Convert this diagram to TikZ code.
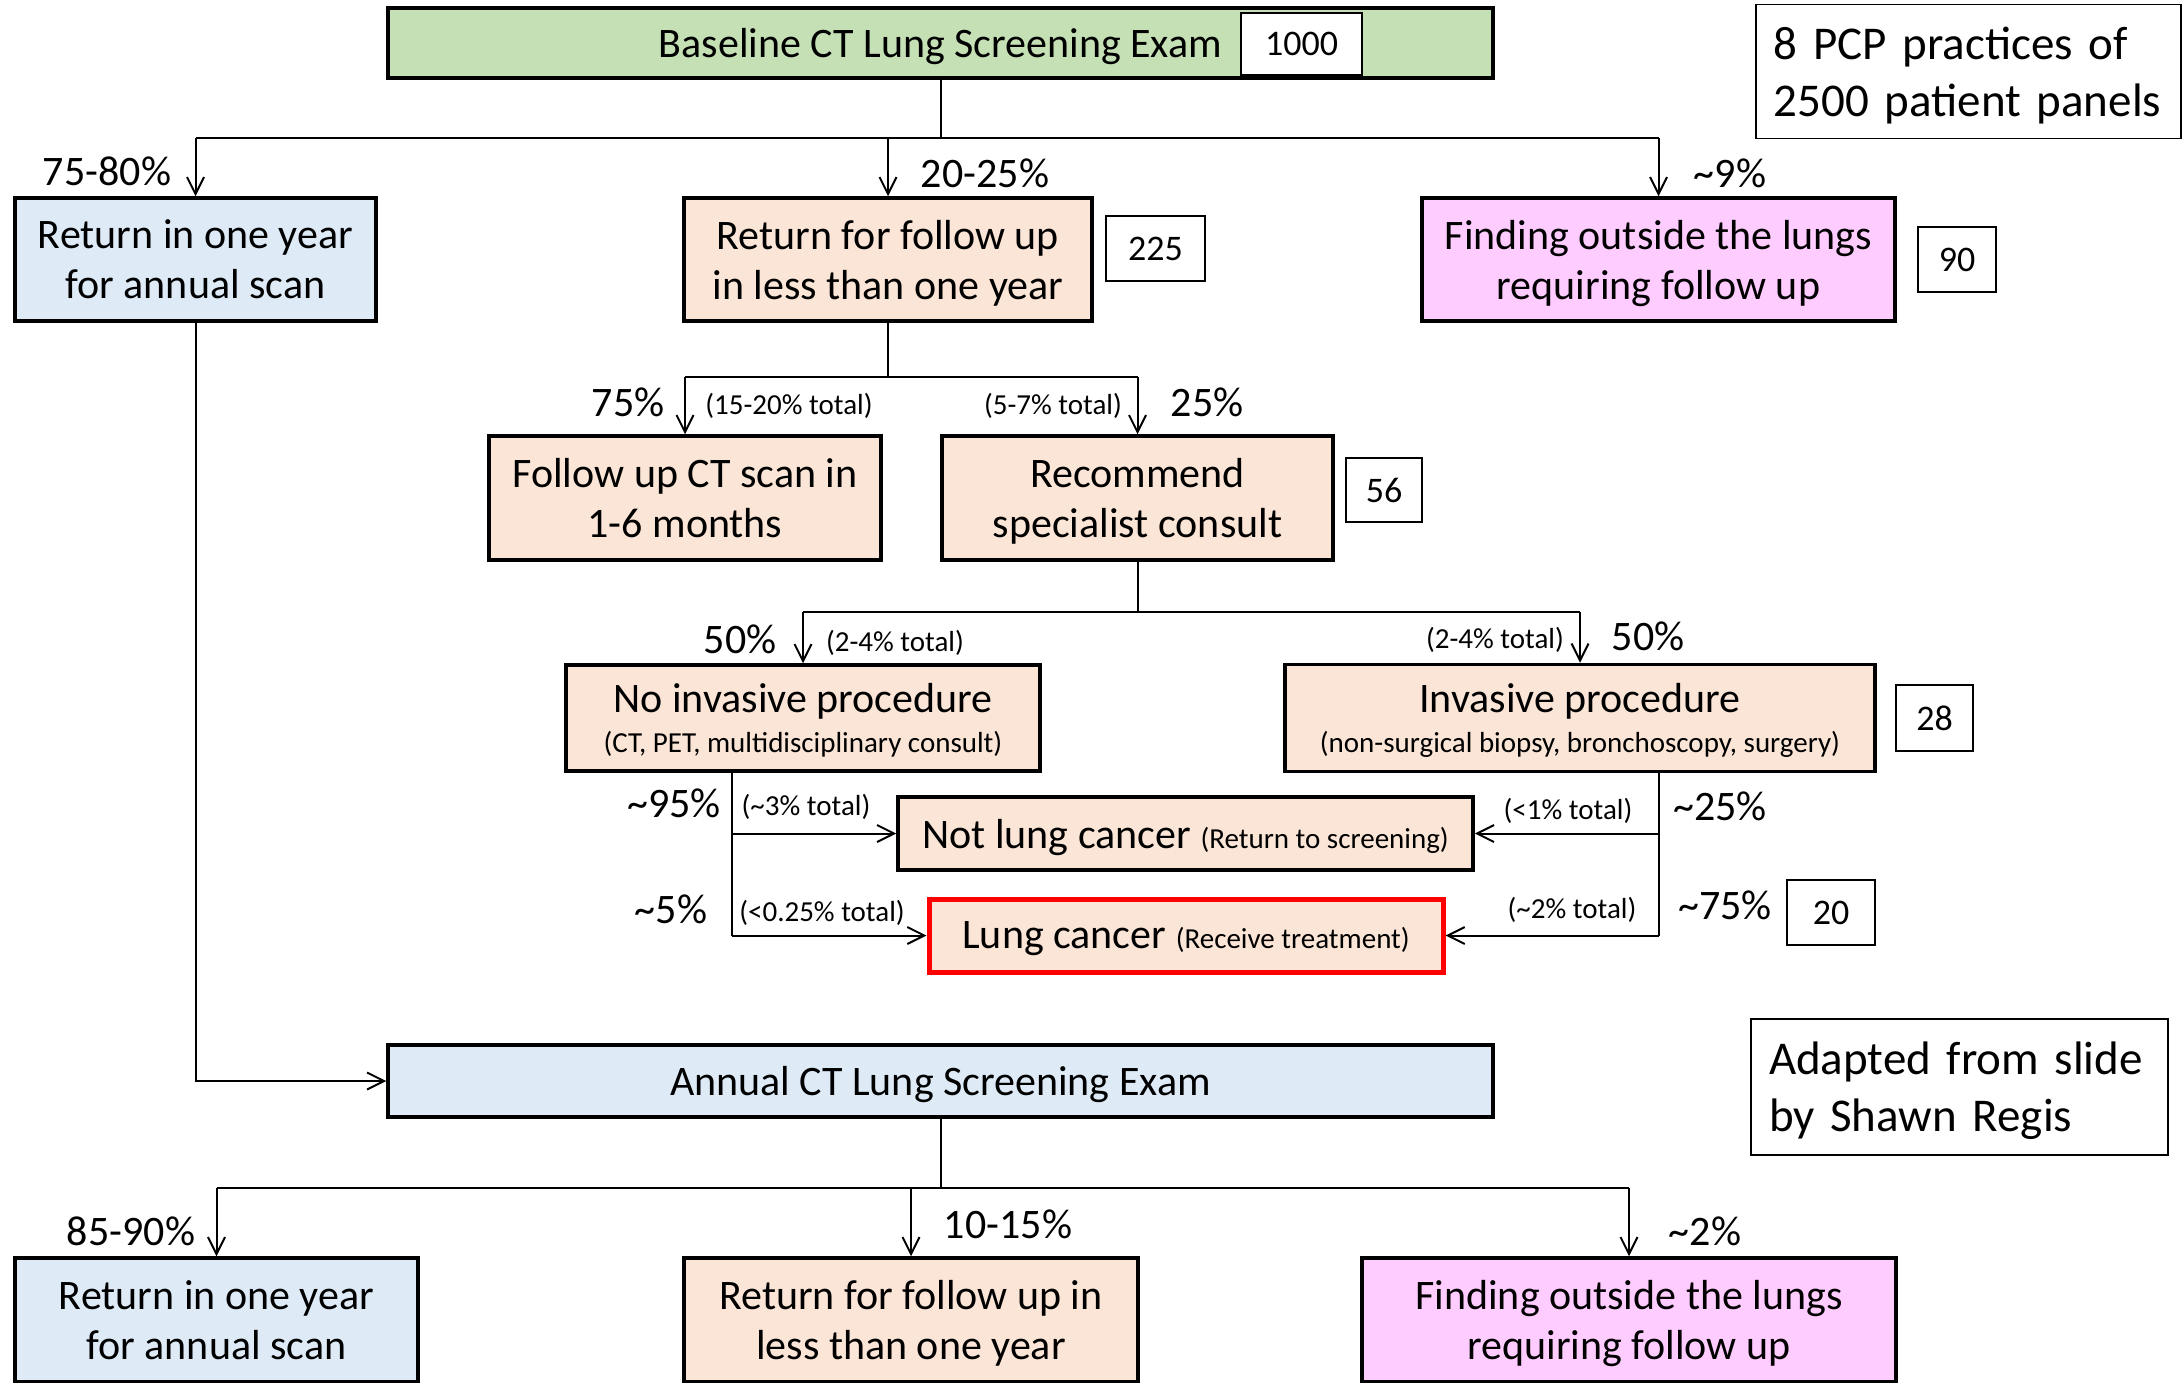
\documentclass[tikz,border=0pt]{standalone}
\usepackage{fontspec}
\setmainfont{Carlito}
\usetikzlibrary{arrows.meta,calc}
\definecolor{bgreen}{HTML}{C5E0B4}
\definecolor{bblue}{HTML}{DEEBF7}
\definecolor{bpeach}{HTML}{FBE5D6}
\definecolor{bpink}{HTML}{FFCCFF}
\newcommand\tld{\textasciitilde}
\begin{document}
\begin{tikzpicture}[x=1pt,y=-1pt,
  box/.style={draw=black, line width=3.5pt, inner sep=0pt, align=center, text depth=0pt, font=\fontsize{42}{50}\selectfont},
  numbox/.style={draw=black, fill=white, line width=1.5pt, inner sep=0pt, font=\fontsize{36}{43}\selectfont},
  notebox/.style={draw=black, fill=white, line width=1.5pt, inner sep=0pt, align=left, text depth=57pt, font=\fontsize{47}{57}\selectfont},
  pct/.style={inner sep=0pt, font=\fontsize{42}{50}\selectfont},
  tot/.style={inner sep=0pt, font=\fontsize{29}{35}\selectfont},
  conn/.style={line width=2pt},
  arr/.style={line width=2pt, -{Straight Barb[length=17pt,width=17pt,line width=2pt]}}
]
\useasboundingbox[fill=white] (0,0) rectangle (2182,1383);

% ---- boxes ----
\node[box, fill=bgreen, minimum width=1105pt, minimum height=70pt] (base) at (940.5,43) {Baseline CT Lung Screening Exam};
\node[numbox, minimum width=121pt, minimum height=62pt] (n1000) at (1301.5,44) {1000};
\node[notebox, anchor=north west, minimum height=134pt, text width=389pt, inner xsep=18pt] (pcp) at (1755,4) {\mbox{8 PCP practices of}\\\mbox{2500 patient panels}};

\node[box, fill=bblue, minimum width=361pt, minimum height=123pt] (r1) at (195.5,259.5) {Return in one year\\for annual scan};
\node[box, fill=bpeach, minimum width=408pt, minimum height=123pt] (r2) at (888,259.5) {Return for follow up\\in less than one year};
\node[numbox, minimum width=99pt, minimum height=65pt] (n225) at (1155.5,248.5) {225};
\node[box, fill=bpink, minimum width=473pt, minimum height=123pt] (r3) at (1658.5,259.5) {Finding outside the lungs\\requiring follow up};
\node[numbox, minimum width=78pt, minimum height=65pt] (n90) at (1957,259.5) {90};

\node[box, fill=bpeach, minimum width=392pt, minimum height=124pt] (fu) at (685,498) {Follow up CT scan in\\1-6 months};
\node[box, fill=bpeach, minimum width=391pt, minimum height=124pt] (rec) at (1137.5,498) {Recommend\\specialist consult};
\node[numbox, minimum width=76pt, minimum height=64pt] (n56) at (1384,490) {56};

\node[box, fill=bpeach, minimum width=474pt, minimum height=106pt] (noinv) at (803,718) {No invasive procedure\\[-10pt]{\fontsize{29}{35}\selectfont (CT, PET, multidisciplinary consult)}};
\node[box, fill=bpeach, minimum width=590pt, minimum height=107pt] (inv) at (1580,718) {Invasive procedure\\[-10pt]{\fontsize{29}{35}\selectfont (non-surgical biopsy, bronchoscopy, surgery)}};
\node[numbox, minimum width=77pt, minimum height=66pt] (n28) at (1934.5,718) {28};

\node[box, fill=bpeach, minimum width=575pt, minimum height=73pt] (notlc) at (1185.5,833.5) {Not lung cancer {\fontsize{29}{35}\selectfont (Return to screening)}};
\node[box, fill=bpeach, draw=red, line width=5pt, minimum width=514pt, minimum height=73pt] (lc) at (1186,935.5) {Lung cancer {\fontsize{29}{35}\selectfont (Receive treatment)}};
\node[numbox, minimum width=88pt, minimum height=65pt] (n20) at (1831,912.5) {20};

\node[box, fill=bblue, minimum width=1105pt, minimum height=72pt] (annual) at (940.5,1081) {Annual CT Lung Screening Exam};
\node[notebox, minimum width=417pt, minimum height=136pt, text width=381pt, inner xsep=18pt] (adapt) at (1959.5,1087) {\mbox{Adapted from slide}\\\mbox{by Shawn Regis}};

\node[box, fill=bblue, minimum width=403pt, minimum height=124pt] (b1) at (216.5,1320) {Return in one year\\for annual scan};
\node[box, fill=bpeach, minimum width=454pt, minimum height=124pt] (b2) at (911,1320) {Return for follow up in\\less than one year};
\node[box, fill=bpink, minimum width=534pt, minimum height=124pt] (b3) at (1629,1320) {Finding outside the lungs\\requiring follow up};

% ---- connectors ----
\coordinate (j1) at (940.5,138);
\draw[conn] (base.south) -- (j1);
\draw[conn] (r1.north |- j1) -- (r3.north |- j1);
\draw[arr] (r1.north |- j1) -- (r1.north);
\draw[arr] (r2.north |- j1) -- (r2.north);
\draw[arr] (r3.north |- j1) -- (r3.north);

\coordinate (j2) at (888,377);
\draw[conn] (r2.south) -- (j2);
\draw[conn] (fu.north |- j2) -- (rec.north |- j2);
\draw[arr] (fu.north |- j2) -- (fu.north);
\draw[arr] (rec.north |- j2) -- (rec.north);

\coordinate (j3) at (1137.5,612);
\draw[conn] (rec.south) -- (j3);
\draw[conn] (noinv.north |- j3) -- (inv.north |- j3);
\draw[arr] (noinv.north |- j3) -- (noinv.north);
\draw[arr] (inv.north |- j3) -- (inv.north);

\coordinate (nl) at ($(noinv.south west)!0.351!(noinv.south east)$);
\draw[conn] (nl) -- (nl |- lc.west);
\draw[arr] (nl |- notlc.west) -- (notlc.west);
\draw[arr] (nl |- lc.west) -- (lc.west);

\coordinate (nr) at ($(inv.south west)!0.633!(inv.south east)$);
\draw[conn] (nr) -- (nr |- lc.east);
\draw[arr] (nr |- notlc.east) -- (notlc.east);
\draw[arr] (nr |- lc.east) -- (lc.east);

\draw[arr] (r1.south) |- (annual.west);

\coordinate (j4) at (940.5,1188);
\draw[conn] (annual.south) -- (j4);
\draw[conn] (b1.north |- j4) -- (b3.north |- j4);
\draw[arr] (b1.north |- j4) -- (b1.north);
\draw[arr] (b2.north |- j4) -- (b2.north);
\draw[arr] (b3.north |- j4) -- (b3.north);

% ---- labels ----
\node[pct] (l1) at (107,171) {75-80\%};
\node[pct] (l2) at (985,173) {20-25\%};
\node[pct] (l3) at (1730,173) {\tld 9\%};
\node[pct] (l4) at (628,402) {75\%};
\node[tot] (l5) at (789,406) {(15-20\% total)};
\node[tot] (l6) at (1053,406) {(5-7\% total)};
\node[pct] (l7) at (1207,402) {25\%};
\node[pct] (l8) at (740,639) {50\%};
\node[tot] (l9) at (895,643) {(2-4\% total)};
\node[tot] (l10) at (1495,640) {(2-4\% total)};
\node[pct] (l11) at (1648,636) {50\%};
\node[pct] (l12) at (674,803) {\tld 95\%};
\node[tot] (l13) at (806,807) {(\tld 3\% total)};
\node[pct] (l14) at (671,909) {\tld 5\%};
\node[tot] (l15) at (822,913) {(<0.25\% total)};
\node[tot] (l16) at (1568,811) {(<1\% total)};
\node[pct] (l17) at (1720,806) {\tld 25\%};
\node[tot] (l18) at (1572,910) {(\tld 2\% total)};
\node[pct] (l19) at (1725,905) {\tld 75\%};
\node[pct] (l20) at (131,1231) {85-90\%};
\node[pct] (l21) at (1008,1224) {10-15\%};
\node[pct] (l22) at (1705,1231) {\tld 2\%};
\end{tikzpicture}
\end{document}
